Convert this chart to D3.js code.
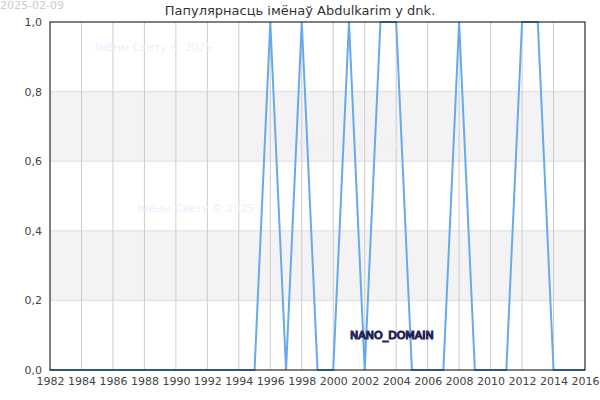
<!DOCTYPE html>
<html>
<head>
<meta charset="utf-8">
<script src="https://cdn.jsdelivr.net/npm/d3@7"></script>
<style>
  body { margin: 0; background: #fff; }
  svg { font-family: "DejaVu Sans", sans-serif; }
</style>
</head>
<body>
<div id="chart"></div>
<script>
// дадзеныя
const years = d3.range(1982, 2017);
const values = [0, 0, 0, 0, 0, 0, 0, 0, 0, 0, 0, 0, 0, 0,
                1, 0, 1, 0, 0, 1, 0, 1, 1, 0, 0, 0, 1, 0, 0, 0, 1, 1, 0, 0, 0];
const xTicks = d3.range(1982, 2017, 2);
const yTicks = [0, 0.2, 0.4, 0.6, 0.8, 1.0];
const title = "Папулярнасць імёнаў Abdulkarim у dnk.";
const dateLabel = "2025-02-09";
const watermark = "Імёны Свету © 2025";

const width = 600, height = 400;
const margin = { top: 22, right: 15, bottom: 30, left: 50 };

const svg = d3.select("#chart").append("svg")
    .attr("width", width)
    .attr("height", height);

const x = d3.scaleLinear()
    .domain([1982, 2016])
    .range([margin.left, width - margin.right]);

const y = d3.scaleLinear()
    .domain([0, 1])
    .range([height - margin.bottom, margin.top]);

// шэрыя палосы
const bands = [[0.2, 0.4], [0.6, 0.8]];
svg.append("g")
    .selectAll("rect")
    .data(bands)
    .enter()
    .append("rect")
    .attr("x", margin.left)
    .attr("y", d => y(d[1]))
    .attr("width", x(2016) - x(1982))
    .attr("height", d => y(d[0]) - y(d[1]))
    .attr("fill", "#f3f3f3");

// гарызантальныя лініі
svg.append("g")
    .selectAll("line")
    .data(yTicks.slice(1, -1))
    .enter()
    .append("line")
    .attr("x1", margin.left)
    .attr("x2", width - margin.right)
    .attr("y1", d => y(d))
    .attr("y2", d => y(d))
    .attr("stroke", "#dddddd");

// вертыкальныя лініі
svg.append("g")
    .selectAll("line")
    .data(xTicks.slice(1, -1))
    .enter()
    .append("line")
    .attr("x1", d => x(d))
    .attr("x2", d => x(d))
    .attr("y1", margin.top)
    .attr("y2", height - margin.bottom)
    .attr("stroke", "#cccccc");

// вадзяныя знакі
const marks = [[1984.86, 0.917], [1997.25, 0.641], [1987.53, 0.454]];
svg.append("g")
    .selectAll("text")
    .data(marks)
    .enter()
    .append("text")
    .attr("x", d => x(d[0]))
    .attr("y", d => y(d[1]))
    .attr("font-size", 11)
    .attr("fill", "#eeeeff")
    .text(watermark);

// лінія
const line = d3.line()
    .x((d, i) => x(years[i]))
    .y(d => y(d));

svg.append("path")
    .datum(values)
    .attr("d", line)
    .attr("fill", "none")
    .attr("stroke", "#66aaee")
    .attr("stroke-width", 2);

// рамка
svg.append("rect")
    .attr("x", margin.left)
    .attr("y", margin.top)
    .attr("width", x(2016) - x(1982))
    .attr("height", y(0) - y(1))
    .attr("fill", "none")
    .attr("stroke", "#000");

// восі
const fmt = d => d3.format(".1f")(d).replace(".", ",");
svg.append("g")
    .attr("transform", `translate(${margin.left},0)`)
    .call(d3.axisLeft(y).tickValues(yTicks).tickFormat(fmt).tickSize(0).tickPadding(8))
    .call(g => g.select(".domain").remove())
    .selectAll("text")
    .attr("font-size", 11)
    .attr("font-family", "DejaVu Sans, sans-serif")
    .attr("fill", "#444");

svg.append("g")
    .attr("transform", `translate(0,${height - margin.bottom})`)
    .call(d3.axisBottom(x).tickValues(xTicks).tickFormat(d3.format("d")).tickSize(0).tickPadding(7))
    .call(g => g.select(".domain").remove())
    .selectAll("text")
    .attr("font-size", 11)
    .attr("font-family", "DejaVu Sans, sans-serif")
    .attr("fill", "#444");

// загаловак
svg.append("text")
    .attr("x", 300)
    .attr("y", 15)
    .attr("text-anchor", "middle")
    .attr("font-size", 13)
    .attr("fill", "#333")
    .text(title);

svg.append("text")
    .attr("x", 0)
    .attr("y", 9)
    .attr("font-size", 11)
    .attr("fill", "#cccccc")
    .text(dateLabel);

// NANO_DOMAIN
svg.append("text")
    .attr("x", x(2001.07))
    .attr("y", y(0.089))
    .attr("font-size", 11)
    .attr("fill", "#aaaadd")
    .attr("stroke", "#222255")
    .attr("stroke-width", 1.2)
    .attr("paint-order", "fill")
    .text("NANO_DOMAIN");
</script>
</body>
</html>
